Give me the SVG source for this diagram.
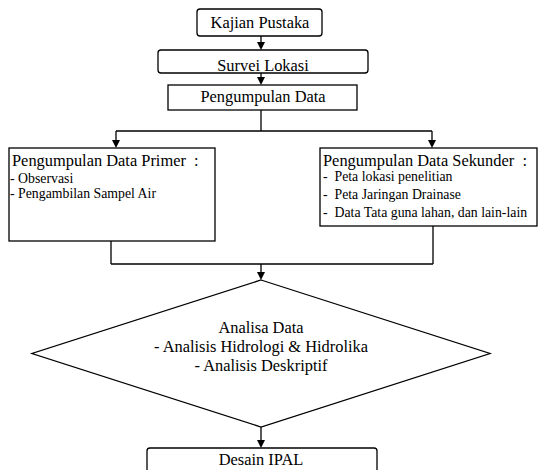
<svg xmlns="http://www.w3.org/2000/svg" width="539" height="470" viewBox="0 0 539 470">
<style>
.box{fill:#fff;stroke:#000;stroke-width:1.3}
.ln{fill:none;stroke:#000;stroke-width:1.3}
.ah{fill:#000}
.t{font-size:16.4px;fill:#000}
.s{font-size:13.8px;fill:#000}
.c{text-anchor:middle}
</style>
<g id="connectors">
<path class="ln" d="M261,36 V43"/><path class="ah" d="M257,42 L265,42 L261,50 Z"/>
<path class="ln" d="M261,73 V78"/><path class="ah" d="M257,77 L265,77 L261,85 Z"/>
<path class="ln" d="M261,110 V131 M116,131 H432 M116,131 V141 M432,131 V141"/>
<path class="ah" d="M112,140 L120,140 L116,148 Z"/>
<path class="ah" d="M428,140 L436,140 L432,148 Z"/>
<path class="ln" d="M111,241 V264 M433,226 V264 M111,264 H433 M261,264 V273"/>
<path class="ah" d="M257,272 L265,272 L261,280 Z"/>
<path class="ln" d="M261,427 V441"/><path class="ah" d="M257,440 L265,440 L261,448 Z"/>
</g>
<g font-family="Liberation Serif, serif">
<g id="kajian">
<rect class="box" x="197" y="9" width="125" height="27" rx="3"/>
<text class="t c" x="260" y="27.5">Kajian Pustaka</text>
</g>
<g id="survei">
<rect class="box" x="158" y="50" width="210" height="23" rx="3"/>
<text class="t c" x="263" y="70.5">Survei Lokasi</text>
</g>
<g id="pengumpulan">
<rect class="box" x="168" y="85" width="189" height="25"/>
<text class="t c" x="263" y="101.5">Pengumpulan Data</text>
</g>
<g id="primer">
<rect class="box" x="9" y="148" width="206" height="93"/>
<text class="t" x="12" y="166" xml:space="preserve">Pengumpulan Data Primer  :</text>
<text class="s" x="10" y="182.5">- Observasi</text>
<text class="s" x="10" y="197.5">- Pengambilan Sampel Air</text>
</g>
<g id="sekunder">
<rect class="box" x="320" y="148" width="217" height="78"/>
<text class="t" x="323" y="165.5" xml:space="preserve">Pengumpulan Data Sekunder  :</text>
<text class="s" x="323" y="181" xml:space="preserve">-  Peta lokasi penelitian</text>
<text class="s" x="323" y="199" xml:space="preserve">-  Peta Jaringan Drainase</text>
<text class="s" x="323" y="216.5" xml:space="preserve">-  Data Tata guna lahan, dan lain-lain</text>
</g>
<g id="analisa">
<polygon class="box" points="261,280 490,353.5 261,427 32,353.5"/>
<text class="t c" x="261" y="332.5">Analisa Data</text>
<text class="t c" x="261" y="351.5">- Analisis Hidrologi &amp; Hidrolika</text>
<text class="t c" x="261" y="370.5">- Analisis Deskriptif</text>
</g>
<g id="desain">
<rect class="box" x="147" y="448" width="230" height="30" rx="3"/>
<text class="t c" x="261" y="465">Desain IPAL</text>
</g>
</g>
</svg>
